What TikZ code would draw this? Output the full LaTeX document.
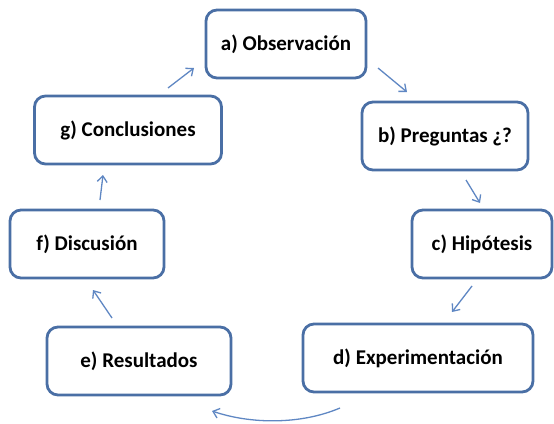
\documentclass[tikz,border=0pt]{standalone}
\usepackage{fontspec}
\setmainfont{Carlito}
\usetikzlibrary{arrows.meta}
\definecolor{boxblue}{RGB}{74,111,165}
\definecolor{arrowblue}{RGB}{95,135,195}
\begin{document}
\begin{tikzpicture}[x=1pt,y=-1pt,
    stage/.style={draw=boxblue,line width=2.8pt,fill=white,rounded corners=11pt,
        minimum height=68pt,font=\fontsize{21}{24}\selectfont\bfseries,inner sep=0pt},
    link/.style={draw=arrowblue,line width=1.3pt,-{Straight Barb[length=6pt,width=10pt]}}]
\useasboundingbox (0,0) rectangle (554,423);

\node[stage,minimum width=160pt] (obs) at (286,44) {a) Observación};
\node[stage,minimum width=166pt] (pre) at (445,136) {b) Preguntas ¿?};
\node[stage,minimum width=140pt] (hip) at (482,244) {c) Hipótesis};
\node[stage,minimum width=230pt] (exp) at (418,358) {d) Experimentación};
\node[stage,minimum width=184pt] (res) at (139,361) {e) Resultados};
\node[stage,minimum width=154pt] (dis) at (87,244) {f) Discusión};
\node[stage,minimum width=187pt] (con) at (128,130) {g) Conclusiones};

% arrows between the stages
\coordinate (ab1) at (378,68);  \coordinate (ab2) at (407,92);
\coordinate (bc1) at (466,180); \coordinate (bc2) at (480,203);
\coordinate (cd1) at (472,286); \coordinate (cd2) at (452,312);
\coordinate (de1) at (340,408); \coordinate (de2) at (212,411);
\coordinate (ef1) at (112,318); \coordinate (ef2) at (93,290);
\coordinate (fg1) at (100,200); \coordinate (fg2) at (103,175);
\coordinate (ga1) at (168,88);  \coordinate (ga2) at (194,68);

\draw[link] (ab1) -- (ab2);
\draw[link] (bc1) -- (bc2);
\draw[link] (cd1) -- (cd2);
\draw[link] (de1) .. controls (300,425) and (250,424) .. (de2);
\draw[link] (ef1) -- (ef2);
\draw[link] (fg1) -- (fg2);
\draw[link] (ga1) -- (ga2);
\end{tikzpicture}
\end{document}
